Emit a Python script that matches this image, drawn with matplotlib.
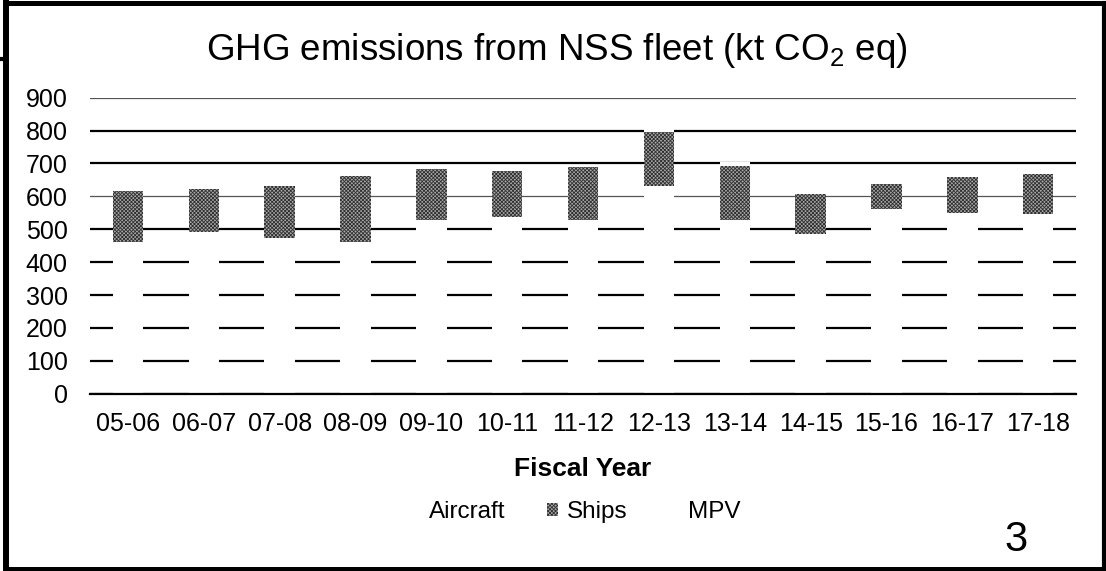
import numpy as np
from matplotlib import pyplot as plt
from matplotlib.lines import Line2D

plt.rcParams['font.family'] = ['Liberation Sans', 'DejaVu Sans']
plt.rcParams['mathtext.fontset'] = 'custom'
plt.rcParams['mathtext.rm'] = 'Liberation Sans'
plt.rcParams['mathtext.it'] = 'Liberation Sans'
plt.rcParams['hatch.linewidth'] = 0.6

years = ['05-06', '06-07', '07-08', '08-09', '09-10', '10-11', '11-12',
         '12-13', '13-14', '14-15', '15-16', '16-17', '17-18']
aircraft = [460, 492, 474, 460, 528, 538, 528, 632, 528, 487, 563, 550, 547]
ships = [156, 129, 157, 203, 155, 138, 162, 164, 163, 119, 73, 110, 120]
mpv = [5, 5, 5, 5, 5, 5, 5, 8, 12, 5, 5, 5, 5]
y_ticks = [0, 100, 200, 300, 400, 500, 600, 700, 800, 900]

fig = plt.figure(figsize=(11.06, 5.71), dpi=100)
ax = fig.add_axes([0.0814, 0.3105, 0.8916, 0.5185])

x = np.arange(len(years))
ships_bottom = np.array(aircraft)
mpv_bottom = ships_bottom + np.array(ships)

ax.bar(x, aircraft, width=0.4, color='white', linewidth=0, zorder=2, label='Aircraft')
ax.bar(x, ships, width=0.4, bottom=ships_bottom, color='#a8a8a8', hatch='xxxxxxxxx',
       edgecolor='#303030', linewidth=0, zorder=2, label='Ships')
ax.bar(x, mpv, width=0.4, bottom=mpv_bottom, color='white', linewidth=0, zorder=2, label='MPV')

ax.set_xlim(-0.5, len(years) - 0.5)
ax.set_ylim(0, 900)
ax.set_yticks(y_ticks)
ax.set_xticks(x)
ax.set_xticklabels(years)
ax.tick_params(axis='both', length=0, labelsize=18)
ax.tick_params(axis='y', pad=16)
ax.tick_params(axis='x', pad=13)

ax.set_axisbelow(True)
ax.yaxis.grid(True, color='black', linewidth=1.6)
for val, gl in zip(y_ticks, ax.get_ygridlines()):
    if val in (600, 900):
        gl.set_linewidth(0.9)
        gl.set_color('#555555')
for side in ['top', 'right', 'left']:
    ax.spines[side].set_visible(False)
ax.spines['bottom'].set_linewidth(1.6)
ax.spines['bottom'].set_zorder(5)

ax.set_xlabel('Fiscal Year', fontsize=19, fontweight='bold', labelpad=15)
fig.text(0.5036, 0.912, r'GHG emissions from NSS fleet (kt CO$_2$ eq)',
         fontsize=26.5, ha='center', va='center')

leg = ax.legend(loc='center', bbox_to_anchor=(0.52, 0.103), bbox_transform=fig.transFigure,
                ncol=3, frameon=False, fontsize=17.5, handlelength=0.45, handleheight=0.45,
                handletextpad=0.35, columnspacing=1.7)

fig.text(0.919, 0.054, '3', fontsize=30, ha='center', va='center')

# page border
W, H = 1106, 571
def px_line(x0, y0, x1, y1, lw):
    fig.add_artist(Line2D([x0 / W, x1 / W], [1 - y0 / H, 1 - y1 / H],
                          transform=fig.transFigure, color='black', linewidth=lw,
                          solid_capstyle='projecting'))

px_line(6, 0, 6, 568, 4.3)
px_line(6, 2.5, 1104, 2.5, 3.6)
px_line(1104, 2.5, 1104, 568, 3.0)
px_line(6, 568.5, 1104, 568.5, 3.6)
px_line(0, 59, 6, 59, 3.0)

fig.savefig('out.png', dpi=100)
